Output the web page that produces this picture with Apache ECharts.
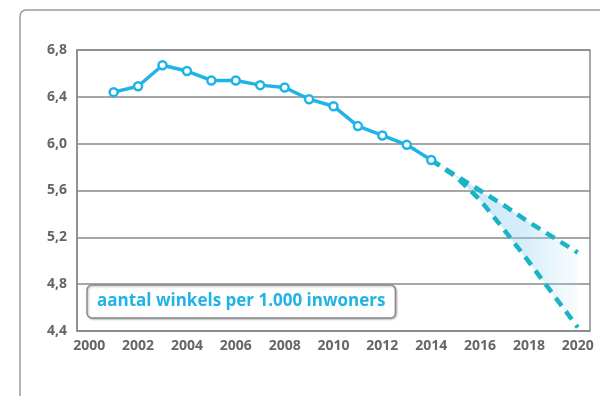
<!DOCTYPE html>
<html lang="nl">
<head>
<meta charset="utf-8" />
<title>Aantal winkels per 1.000 inwoners</title>
<script src="https://cdn.jsdelivr.net/npm/echarts@6/dist/echarts.min.js"></script>
</head>
<body style="margin:0; background:#fff;">
<div id="main" style="width:600px; height:396px;"></div>
<script>
const years = ['2000', '2001', '2002', '2003', '2004', '2005', '2006', '2007', '2008', '2009', '2010',
               '2011', '2012', '2013', '2014', '2015', '2016', '2017', '2018', '2019', '2020'];
const actualYears = ['2001', '2002', '2003', '2004', '2005', '2006', '2007', '2008', '2009', '2010', '2011', '2012', '2013', '2014'];
const actualValues = [6.44, 6.49, 6.67, 6.62, 6.54, 6.54, 6.50, 6.48, 6.38, 6.32, 6.15, 6.07, 5.99, 5.86];
const forecastYears = ['2014', '2015', '2016', '2017', '2018', '2019', '2020'];
const forecastHigh = [5.86, 5.73, 5.60, 5.47, 5.33, 5.20, 5.07];
const forecastLow = [5.86, 5.72, 5.52, 5.26, 4.99, 4.71, 4.43];
const seriesName = 'aantal winkels per 1.000 inwoners';

// spread the values over all category slots
const spread = (ys, vals) => years.map(y => {
  const i = ys.indexOf(y);
  return i < 0 ? '-' : vals[i];
});
const actual = spread(actualYears, actualValues);
const high = spread(forecastYears, forecastHigh);
const low = spread(forecastYears, forecastLow);
const band = spread(forecastYears, forecastHigh.map((v, i) => +(v - forecastLow[i]).toFixed(2)));

const cyan = '#1fb3e6';
const teal = '#1ab4c4';
const grey = '#8a8a8a';
const font = '"Open Sans", sans-serif';

const chart = echarts.init(document.getElementById('main'));

chart.setOption({
  animation: false,
  graphic: [{
    type: 'rect',
    z: -10,
    shape: { x: 20, y: 10, width: 620, height: 420, r: 6 },
    style: { fill: 'none', stroke: '#9a9a9a', lineWidth: 1.5 }
  }],
  grid: {
    left: 77, right: 10, top: 50, bottom: 65,
    show: true, borderColor: grey, borderWidth: 1.5
  },
  legend: {
    data: [{ name: seriesName, icon: 'none' }],
    left: 87, top: 285,
    padding: [8, 10, 8, 5],
    itemWidth: 0, itemGap: 0,
    selectedMode: false,
    backgroundColor: '#fff',
    borderColor: grey, borderWidth: 1.5, borderRadius: 5,
    shadowColor: 'rgba(0,0,0,0.25)', shadowBlur: 2, shadowOffsetX: 1, shadowOffsetY: 1,
    textStyle: { color: cyan, fontSize: 17, fontWeight: 'bold', fontFamily: font }
  },
  xAxis: {
    type: 'category',
    data: years,
    boundaryGap: true,
    axisLine: { show: true, lineStyle: { color: grey, width: 1.5 } },
    axisTick: { show: false },
    axisLabel: { interval: 1, color: '#666', fontSize: 14, fontWeight: 'bold', fontFamily: font, margin: 8 }
  },
  yAxis: {
    type: 'value',
    min: 4.4, max: 6.8, interval: 0.4,
    axisLine: { show: true, lineStyle: { color: grey, width: 1.5 } },
    axisTick: { show: false },
    splitLine: { lineStyle: { color: grey, width: 1.5 } },
    axisLabel: {
      color: '#666', fontSize: 14, fontWeight: 'bold', fontFamily: font, margin: 10,
      formatter: v => v.toFixed(1).replace('.', ',')
    }
  },
  series: [
    {
      name: 'base', type: 'line', data: low, stack: 'band',
      symbol: 'none', lineStyle: { opacity: 0 }, silent: true, z: 1
    },
    {
      name: 'band', type: 'line', data: band, stack: 'band',
      symbol: 'none', lineStyle: { opacity: 0 }, silent: true, z: 1,
      areaStyle: {
        color: new echarts.graphic.LinearGradient(0, 0, 1, 0, [
          { offset: 0, color: 'rgba(130,200,240,0.65)' },
          { offset: 0.65, color: 'rgba(150,210,242,0.55)' },
          { offset: 1, color: 'rgba(180,225,245,0.15)' }
        ])
      }
    },
    {
      name: 'hoog', type: 'line', data: high, symbol: 'none', z: 2,
      lineStyle: { color: teal, width: 4.5, type: [10, 7] }
    },
    {
      name: 'laag', type: 'line', data: low, symbol: 'none', z: 2,
      lineStyle: { color: teal, width: 4.5, type: [10, 7] }
    },
    {
      name: seriesName, type: 'line', data: actual, z: 3,
      symbol: 'circle', symbolSize: 8,
      itemStyle: { color: '#fff', borderColor: cyan, borderWidth: 2.5 },
      lineStyle: { color: cyan, width: 3.5 }
    }
  ]
});
</script>
</body>
</html>
